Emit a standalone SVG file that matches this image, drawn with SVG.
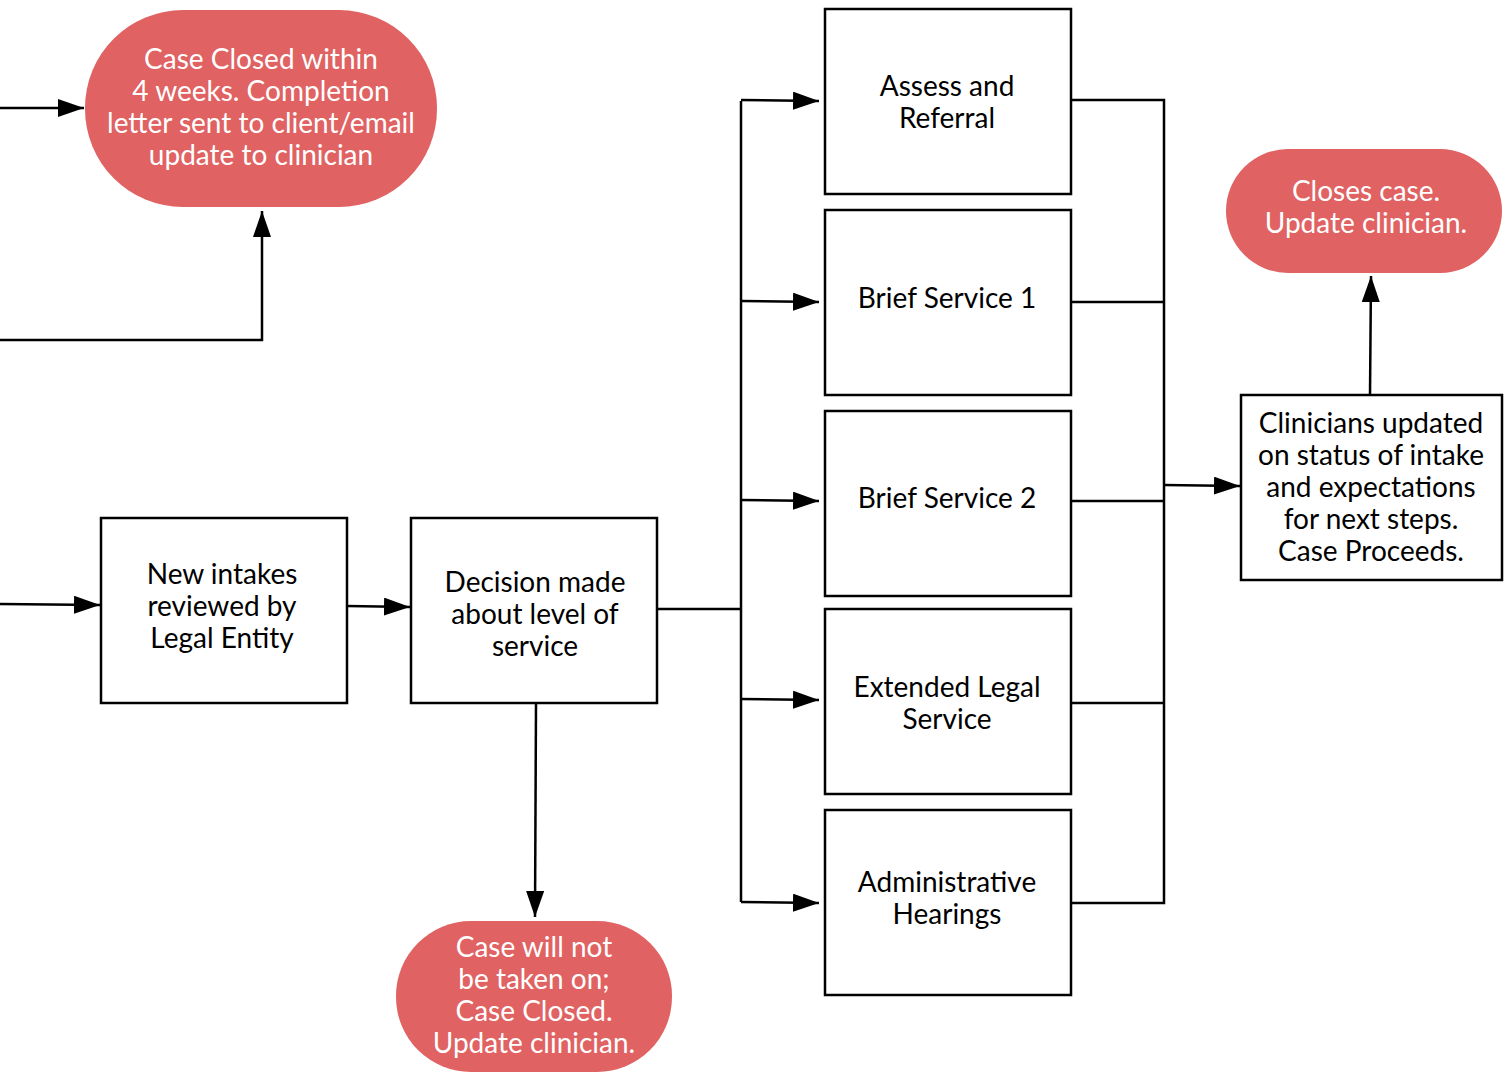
<svg xmlns="http://www.w3.org/2000/svg" width="1510" height="1072" viewBox="0 0 1510 1072">
<defs>
<marker id="ah" markerWidth="26" markerHeight="18" refX="26" refY="9" orient="auto" markerUnits="userSpaceOnUse" viewBox="0 0 26 18">
<path d="M0,0 L26,9 L0,18 L0,0 z" fill="#000"/>
</marker>
<style>
.box{fill:#fff;stroke:#000;stroke-width:2.5}
.pill{fill:#E06262;stroke:none}
.t{font-family:Lato,"Open Sans",sans-serif;font-size:28px;text-anchor:middle;fill:#000}
.w{fill:#fff}
.c{fill:none;stroke:#000;stroke-width:2.5}
</style>
</defs>
<rect width="1510" height="1072" fill="#fff"/>
<g id="connectors">
<path class="c" d="M0,108 L84,108" marker-end="url(#ah)"/>
<path class="c" d="M0,340 L262,340 L262,211" marker-end="url(#ah)"/>
<path class="c" d="M0,604 L100,605" marker-end="url(#ah)"/>
<path class="c" d="M347,606 L410,607" marker-end="url(#ah)"/>
<path class="c" d="M536,703 L535,917" marker-end="url(#ah)"/>
<path class="c" d="M657,609 L741,609"/>
<path class="c" d="M741,101 L741,902"/>
<path class="c" d="M741,100 L819,101" marker-end="url(#ah)"/>
<path class="c" d="M741,301 L819,302" marker-end="url(#ah)"/>
<path class="c" d="M741,500 L819,501" marker-end="url(#ah)"/>
<path class="c" d="M741,699 L819,700" marker-end="url(#ah)"/>
<path class="c" d="M741,902 L819,903" marker-end="url(#ah)"/>
<path class="c" d="M1071,100 L1164,100 L1164,903 L1071,903"/>
<path class="c" d="M1071,302 L1164,302"/>
<path class="c" d="M1071,501 L1164,501"/>
<path class="c" d="M1071,703 L1164,703"/>
<path class="c" d="M1164,485 L1240,486" marker-end="url(#ah)"/>
<path class="c" d="M1370,395 L1371,276" marker-end="url(#ah)"/>
</g>
<g id="case-closed-4weeks">
<rect class="pill" x="85" y="10" width="352" height="197" rx="98" ry="98"/>
<text class="t w" x="261" y="69">Case Closed within</text>
<text class="t w" x="261" y="101">4 weeks. Completion</text>
<text class="t w" x="261" y="133">letter sent to client/email</text>
<text class="t w" x="261" y="165">update to clinician</text>
</g>
<g id="new-intakes">
<rect class="box" x="101" y="518" width="246" height="185"/>
<text class="t" x="222" y="584">New intakes</text>
<text class="t" x="222" y="616">reviewed by</text>
<text class="t" x="222" y="648">Legal Entity</text>
</g>
<g id="decision">
<rect class="box" x="411" y="518" width="246" height="185"/>
<text class="t" x="535" y="592">Decision made</text>
<text class="t" x="535" y="624">about level of</text>
<text class="t" x="535" y="656">service</text>
</g>
<g id="case-not-taken">
<rect class="pill" x="396" y="921" width="276" height="151" rx="75" ry="75"/>
<text class="t w" x="534" y="957">Case will not</text>
<text class="t w" x="534" y="989">be taken on;</text>
<text class="t w" x="534" y="1021">Case Closed.</text>
<text class="t w" x="534" y="1053">Update clinician.</text>
</g>
<g id="assess-referral">
<rect class="box" x="825" y="9" width="246" height="185"/>
<text class="t" x="947" y="96">Assess and</text>
<text class="t" x="947" y="128">Referral</text>
</g>
<g id="brief-service-1">
<rect class="box" x="825" y="210" width="246" height="185"/>
<text class="t" x="947" y="308">Brief Service 1</text>
</g>
<g id="brief-service-2">
<rect class="box" x="825" y="411" width="246" height="185"/>
<text class="t" x="947" y="508">Brief Service 2</text>
</g>
<g id="extended-legal">
<rect class="box" x="825" y="609" width="246" height="185"/>
<text class="t" x="947" y="697">Extended Legal</text>
<text class="t" x="947" y="729">Service</text>
</g>
<g id="admin-hearings">
<rect class="box" x="825" y="810" width="246" height="185"/>
<text class="t" x="947" y="892">Administrative</text>
<text class="t" x="947" y="924">Hearings</text>
</g>
<g id="clinicians-updated">
<rect class="box" x="1241" y="395" width="261" height="185"/>
<text class="t" x="1371" y="433">Clinicians updated</text>
<text class="t" x="1371" y="465">on status of intake</text>
<text class="t" x="1371" y="497">and expectations</text>
<text class="t" x="1371" y="529">for next steps.</text>
<text class="t" x="1371" y="561">Case Proceeds.</text>
</g>
<g id="closes-case">
<rect class="pill" x="1226" y="149" width="276" height="124" rx="62" ry="62"/>
<text class="t w" x="1366" y="201">Closes case.</text>
<text class="t w" x="1366" y="233">Update clinician.</text>
</g>
</svg>
